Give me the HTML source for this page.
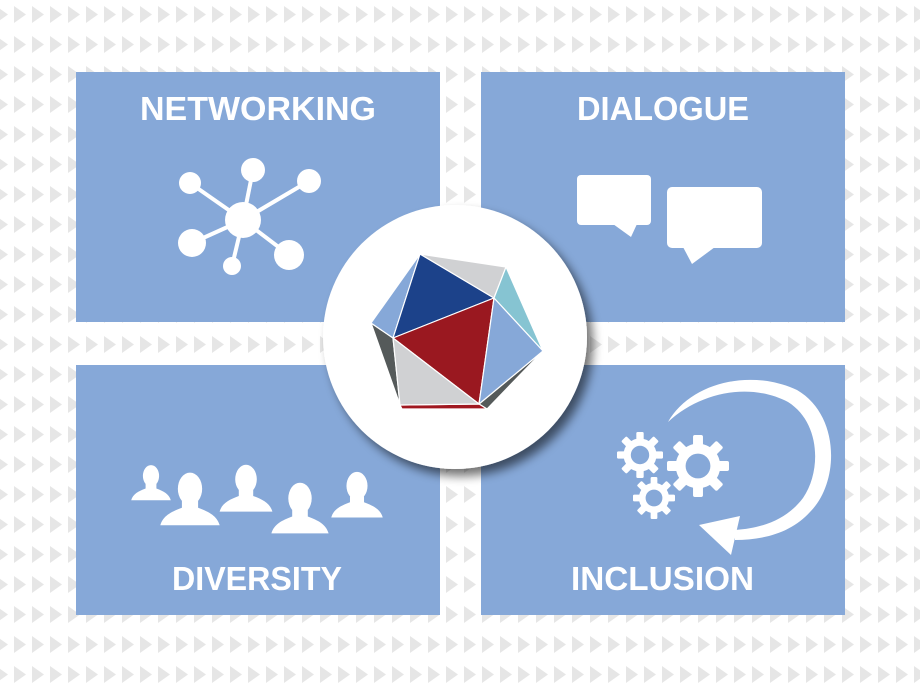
<!DOCTYPE html>
<html><head><meta charset="utf-8"><style>html,body{margin:0;padding:0;background:#fff}svg{display:block}</style></head>
<body>
<svg width="920" height="688" viewBox="0 0 920 688" xmlns="http://www.w3.org/2000/svg">
<defs>
<pattern id="tri" x="14" y="6" width="18" height="30" patternUnits="userSpaceOnUse">
<polygon points="0,0 12,8.5 0,17" fill="#e6e6e6"/>
</pattern>
<filter id="sh" x="-20%" y="-20%" width="150%" height="150%"><feGaussianBlur in="SourceAlpha" stdDeviation="5"/><feOffset dx="6" dy="7"/><feComponentTransfer><feFuncA type="linear" slope="0.55"/></feComponentTransfer><feMerge><feMergeNode/><feMergeNode in="SourceGraphic"/></feMerge></filter>
<g id="gear"><circle r="0.72" fill="#fff"/><g fill="#fff"><rect x="-0.16" y="-1" width="0.32" height="2" rx="0.06"/><rect x="-0.16" y="-1" width="0.32" height="2" rx="0.06" transform="rotate(45)"/><rect x="-0.16" y="-1" width="0.32" height="2" rx="0.06" transform="rotate(90)"/><rect x="-0.16" y="-1" width="0.32" height="2" rx="0.06" transform="rotate(135)"/></g><circle r="0.4" fill="#86a8d8"/></g>
</defs>
<rect width="920" height="688" fill="#fff"/>
<rect width="920" height="688" fill="url(#tri)"/>
<g fill="#86a8d8">
<rect x="76" y="72" width="364" height="250"/>
<rect x="481" y="72" width="364" height="250"/>
<rect x="76" y="365" width="364" height="250"/>
<rect x="481" y="365" width="364" height="250"/>
</g>
<g font-family="Liberation Sans, sans-serif" font-weight="bold" font-size="33" fill="#fff">
<text x="140" y="120" textLength="236" lengthAdjust="spacingAndGlyphs">NETWORKING</text>
<text x="577" y="120" textLength="172" lengthAdjust="spacingAndGlyphs">DIALOGUE</text>
<text x="172" y="590" textLength="170" lengthAdjust="spacingAndGlyphs">DIVERSITY</text>
<text x="571" y="590" textLength="183" lengthAdjust="spacingAndGlyphs">INCLUSION</text>
</g>
<g stroke="#fff" stroke-width="4" fill="#fff">
<line x1="243" y1="220" x2="190" y2="183"/><line x1="243" y1="220" x2="253" y2="170"/><line x1="243" y1="220" x2="309" y2="181"/><line x1="243" y1="220" x2="192" y2="243"/><line x1="243" y1="220" x2="289" y2="255"/><line x1="243" y1="220" x2="232" y2="266"/>
</g>
<g fill="#fff"><circle cx="243" cy="220" r="18"/><circle cx="190" cy="183" r="11"/><circle cx="253" cy="170" r="12"/><circle cx="309" cy="181" r="12"/><circle cx="192" cy="243" r="14"/><circle cx="289" cy="255" r="15"/><circle cx="232" cy="266" r="9"/></g>
<g fill="#fff">
<rect x="577" y="175" width="74" height="50" rx="4"/><polygon points="613,224 631,237 637,224"/>
<rect x="667" y="187" width="95" height="61" rx="5"/><polygon points="683,247 692,264 715,247"/>
</g>
<g fill="#fff">
<g transform="translate(151,466) scale(0.9)"><ellipse cx="0" cy="11" rx="9" ry="12"/><path d="M-6,20 L-6,25 C-14,28 -20,31 -22,38 L22,38 C20,31 14,28 6,25 L6,20 Z"/></g>
<g transform="translate(190,474) scale(1.35)"><ellipse cx="0" cy="11" rx="9" ry="12"/><path d="M-6,20 L-6,25 C-14,28 -20,31 -22,38 L22,38 C20,31 14,28 6,25 L6,20 Z"/></g>
<g transform="translate(246,466) scale(1.2)"><ellipse cx="0" cy="11" rx="9" ry="12"/><path d="M-6,20 L-6,25 C-14,28 -20,31 -22,38 L22,38 C20,31 14,28 6,25 L6,20 Z"/></g>
<g transform="translate(300,484) scale(1.3)"><ellipse cx="0" cy="11" rx="9" ry="12"/><path d="M-6,20 L-6,25 C-14,28 -20,31 -22,38 L22,38 C20,31 14,28 6,25 L6,20 Z"/></g>
<g transform="translate(357,473) scale(1.17)"><ellipse cx="0" cy="11" rx="9" ry="12"/><path d="M-6,20 L-6,25 C-14,28 -20,31 -22,38 L22,38 C20,31 14,28 6,25 L6,20 Z"/></g>
</g>
<use href="#gear" transform="translate(640,455) scale(23)"/>
<use href="#gear" transform="translate(698,466) scale(31)"/>
<use href="#gear" transform="translate(654,498) scale(21)"/>
<path d="M668,422 C690,383 750,368 797,390 C840,415 840,482 810,512 C792,532 765,540 735,540 L735,530 C765,528 788,518 803,498 C822,470 820,422 788,402 C750,382 700,392 668,422 Z" fill="#fff"/>
<polygon points="699,525 740,516 731,555" fill="#fff"/>
<circle cx="455" cy="337" r="132" fill="#fff" filter="url(#sh)"/>
<g stroke="#fff" stroke-width="1.2" stroke-linejoin="round">
<polygon points="371,323 393,338 400,405" fill="#555a5a"/>
<polygon points="479,404 543,351 487,409" fill="#555a5a"/>
<polygon points="400,405 479,404 487,409 402,409" fill="#a01820"/>
<polygon points="420,254 371,323 393,338" fill="#86a8d8"/>
<polygon points="420,254 494,298 393,338" fill="#1c428a"/>
<polygon points="420,254 506,267 494,298" fill="#d0d1d3"/>
<polygon points="506,267 543,351 494,298" fill="#86c4d2"/>
<polygon points="393,338 494,298 479,404" fill="#9a1820"/>
<polygon points="494,298 543,351 479,404" fill="#86a8d8"/>
<polygon points="393,338 479,404 400,405" fill="#d0d1d3"/>
</g>
</svg>
</body></html>
